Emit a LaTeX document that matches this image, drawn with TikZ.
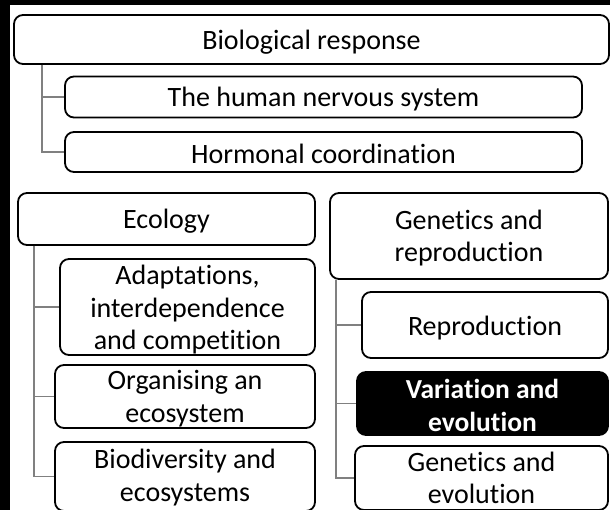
\documentclass[tikz,border=0pt]{standalone}
\usepackage{fontspec}
\setmainfont{Carlito}[Ligatures=NoCommon]
\begin{document}
\begin{tikzpicture}[x=1pt,y=-1pt,
  box/.style={draw=black,line width=1.8pt,rounded corners=9pt,fill=white,inner sep=0pt},
  hibox/.style={box,fill=black},
  txt/.style={inner sep=0pt,align=center,text=black,font=\fontsize{28}{32.5}\selectfont},
  hitxt/.style={txt,text=white,font=\fontsize{27.5}{32.5}\selectfont\bfseries},
  conn/.style={draw={rgb,255:red,128;green,128;blue,128},line width=1.4pt}]
\useasboundingbox (0,0) rectangle (610,510);
\fill[black] (0,0) rectangle (610,510);
\fill[white] (10,5) rectangle (612,512);
\node[box,minimum width=595pt,minimum height=49pt] (br) at (311.5,39.5) {};
\node[box,minimum width=517pt,minimum height=41pt] (hn) at (323.5,97) {};
\node[box,minimum width=517pt,minimum height=40pt] (hc) at (323.5,152) {};
\node[box,minimum width=297pt,minimum height=52pt] (eco) at (166.5,219) {};
\node[box,minimum width=255pt,minimum height=96pt] (ad) at (187.5,307) {};
\node[box,minimum width=260pt,minimum height=63pt] (org) at (185,396.5) {};
\node[box,minimum width=260pt,minimum height=69pt] (bio) at (185,476.5) {};
\node[box,minimum width=278pt,minimum height=86pt] (gr) at (469,236) {};
\node[box,minimum width=246pt,minimum height=66pt] (rep) at (485,325) {};
\node[hibox,minimum width=251pt,minimum height=63pt] (var) at (482.5,403.5) {};
\node[box,minimum width=253pt,minimum height=64pt] (ge) at (481.5,478) {};
\node[txt] (brt) at ([yshift=-3pt]br.center) {Biological response};
\node[txt] (hnt) at ([yshift=-2pt]hn.center) {The human nervous system};
\node[txt] (hct) at ([yshift=-2pt]hc.center) {Hormonal coordination};
\node[txt] (ecot) at ([yshift=-2pt]eco.center) {Ecology};
\node[txt] (adt) at ([yshift=-3pt]ad.center) {Adaptations,\\interdependence\\and competition};
\node[txt] (orgt) at ([yshift=-2pt]org.center) {Organising an\\ecosystem};
\node[txt] (biot) at ([yshift=-1pt]bio.center) {Biodiversity and\\ecosystems};
\node[txt] (grt) at ([yshift=-2pt]gr.center) {Genetics and\\reproduction};
\node[txt] (rept) at ([yshift=-3pt]rep.center) {Reproduction};
\node[hitxt] (vart) at ([yshift=-2pt]var.center) {Variation and\\evolution};
\node[txt] (get) at (ge.center) {Genetics and\\evolution};
\draw[conn] ([xshift=29pt]br.south west) |- (hn.west);
\draw[conn] ([xshift=29pt]br.south west) |- (hc.west);
\draw[conn] ([xshift=17pt]eco.south west) |- (ad.west);
\draw[conn] ([xshift=17pt]eco.south west) |- (org.west);
\draw[conn] ([xshift=17pt]eco.south west) |- (bio.west);
\draw[conn] ([xshift=7pt]gr.south west) |- (rep.west);
\draw[conn] ([xshift=7pt]gr.south west) |- (var.west);
\draw[conn] ([xshift=7pt]gr.south west) |- (ge.west);
\end{tikzpicture}
\end{document}
